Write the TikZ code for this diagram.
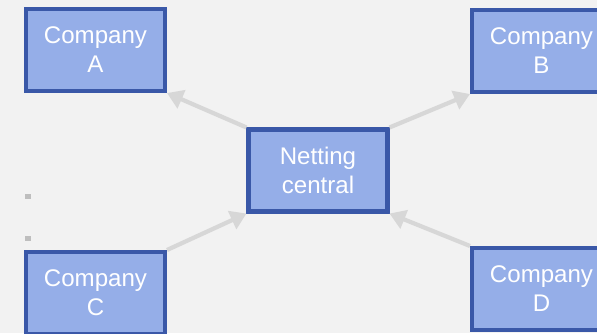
\documentclass[tikz,border=0pt]{standalone}
\usepackage{fontspec}
\setmainfont{Liberation Sans}
\usetikzlibrary{arrows.meta}
\definecolor{boxfill}{RGB}{149,174,232}
\definecolor{boxline}{RGB}{58,88,168}
\definecolor{flowgray}{RGB}{215,215,215}
\definecolor{bggray}{RGB}{242,242,242}
\definecolor{dotgray}{RGB}{190,190,190}
\begin{document}
\begin{tikzpicture}[
  every node/.style={font=\fontsize{13.7}{16.5}\selectfont},
  firm/.style={rectangle,draw=boxline,line width=2.3pt,fill=boxfill,text=white,
    minimum width=2.78cm,minimum height=1.64cm,align=center,inner sep=0pt},
  flow/.style={draw=flowgray,line width=2.4pt,-{Triangle[length=9pt,width=11pt]}}
]
\clip (0,0) rectangle (11.94,6.66);
\fill[bggray] (0,0) rectangle (11.94,6.66);
\node[firm] (a) at (1.91,5.66) {Company\\A};
\node[firm] (b) at (10.83,5.64) {Company\\B};
\node[firm] (c) at (1.91,0.80) {Company\\C};
\node[firm] (d) at (10.83,0.88) {Company\\D};
\node[firm] (net) at (6.36,3.25) {Netting\\central};
\draw[flow] (net.north west) -- (a.south east);
\draw[flow] (net.north east) -- (b.south west);
\draw[flow] (c.north east) -- (net.south west);
\draw[flow] (d.north west) -- (net.south east);
% bullet marks
\fill[dotgray] (0.51,2.69) rectangle +(0.1,0.1);
\fill[dotgray] (0.51,1.85) rectangle +(0.1,0.1);
\end{tikzpicture}
\end{document}
